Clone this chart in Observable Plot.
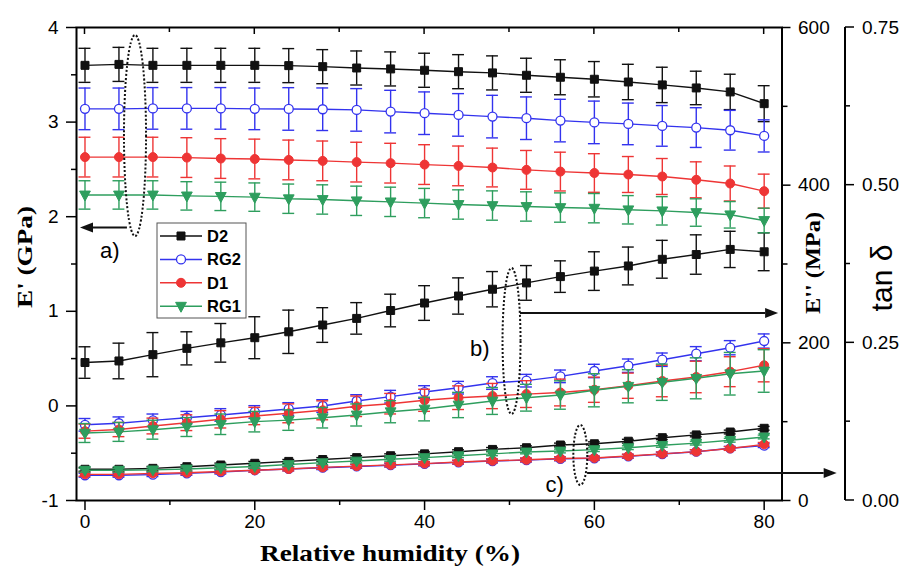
<!DOCTYPE html>
<html><head><meta charset="utf-8">
<script src="https://cdn.jsdelivr.net/npm/d3@7"></script>
<script src="https://cdn.jsdelivr.net/npm/@observablehq/plot@0.6"></script>
<style>
html,body{margin:0;padding:0;background:#fff;}
#chart{width:906px;height:567px;overflow:hidden}
svg{display:block}
</style></head><body><div id="chart"></div>
<script>
// ---------- data ----------
const RH = [0,4,8,12,16,20,24,28,32,36,40,44,48,52,56,60,64,68,72,76,80];
const seriesNames = ["D2","RG2","D1","RG1"];
const seriesColors = ["#111111","#3333ee","#ee3535","#2e9e5e"];

// E' (GPa)
const E1_D2  = [3.60,3.61,3.60,3.60,3.60,3.60,3.597,3.586,3.572,3.562,3.548,3.533,3.52,3.495,3.474,3.453,3.424,3.393,3.361,3.319,3.195];
const E1_RG2 = [3.14,3.14,3.145,3.145,3.145,3.14,3.139,3.136,3.129,3.111,3.094,3.076,3.058,3.041,3.016,2.997,2.981,2.96,2.942,2.914,2.854];
const E1_D1  = [2.63,2.63,2.63,2.625,2.615,2.61,2.60,2.59,2.577,2.566,2.551,2.537,2.52,2.495,2.477,2.462,2.446,2.425,2.39,2.351,2.27];
const E1_RG1 = [2.23,2.23,2.23,2.22,2.215,2.207,2.19,2.182,2.168,2.157,2.144,2.129,2.118,2.108,2.097,2.09,2.073,2.062,2.044,2.02,1.96];
const E1err_D2  = [0.18,0.18,0.18,0.18,0.18,0.18,0.18,0.18,0.18,0.18,0.18,0.18,0.18,0.18,0.185,0.187,0.187,0.187,0.177,0.187,0.19];
const E1err_RG2 = [0.22,0.22,0.22,0.22,0.22,0.22,0.225,0.225,0.225,0.225,0.225,0.225,0.225,0.225,0.225,0.225,0.22,0.215,0.21,0.21,0.17];
const E1err_D1  = [0.21,0.21,0.21,0.21,0.21,0.21,0.21,0.21,0.21,0.21,0.21,0.21,0.205,0.205,0.205,0.204,0.19,0.19,0.19,0.185,0.18];
const E1err_RG1 = [0.15,0.15,0.15,0.15,0.15,0.15,0.155,0.155,0.155,0.155,0.155,0.155,0.155,0.155,0.155,0.155,0.15,0.15,0.145,0.14,0.13];

// E'' (MPa)
const E2_D2  = [175,177,185,193,200,206.5,214,222.6,231,241,250.5,259.4,268,276,284,291,297.5,306,312,318.5,315.5];
const E2_RG2 = [96,98,101.7,105,108.5,112.3,116.1,119.9,126.2,131.7,137.6,143.1,149,152,157.5,164.3,171,178.6,186.2,193.8,202.3];
const E2_D1  = [88,90,94.5,98.7,103,107.2,110.6,114.4,119.5,122.8,127.1,130.4,132.5,135,137,140.5,145.6,151.6,156.7,163.4,171.5];
const E2_RG1 = [85.6,87,89.8,93.2,96.7,100,102,105,108.5,112.6,116,121.1,126.2,130.4,133.8,139.8,144.9,150,155,160.8,164.3];
const E2err_D2  = [20,22.6,28,21,24.5,26.6,27.5,22,20,20.7,22,23,22.4,22,20,24.5,24,24,25,23,24];
const E2err_RG2 = [8,8,8,8,8,8,8,8,8,8,8,8,8,8,8,8.5,8.5,8.5,9,9,9];
const E2err_D1  = [9,9,10,10,11,11,12,12,13,13,14,15,16,17,17,16,16,20,20,19,21];
const E2err_RG1 = [12,12,12,12,13,13,13,13,14,14,15,16,17,17,18,21,21,23,26,27,27];

// tan delta
const TD_D2  = [0.0495,0.0495,0.051,0.0536,0.0563,0.059,0.062,0.065,0.068,0.071,0.074,0.0774,0.081,0.0837,0.088,0.090,0.094,0.0996,0.104,0.1086,0.1145];
const TD_RG2 = [0.040,0.040,0.041,0.043,0.045,0.048,0.050,0.052,0.054,0.056,0.058,0.0606,0.0626,0.064,0.066,0.067,0.070,0.0737,0.0774,0.0828,0.087];
const TD_D1  = [0.0415,0.0415,0.043,0.044,0.046,0.048,0.050,0.0525,0.0545,0.0565,0.0585,0.061,0.063,0.0645,0.0665,0.0675,0.0705,0.074,0.0775,0.0825,0.089];
const TD_RG1 = [0.048,0.048,0.0486,0.050,0.052,0.054,0.057,0.060,0.0626,0.0653,0.068,0.071,0.074,0.077,0.0785,0.0806,0.0837,0.0875,0.091,0.0955,0.1007];
const TDerr = [0.003,0.003,0.003,0.003,0.003,0.003,0.003,0.003,0.003,0.003,0.003,0.003,0.003,0.003,0.003,0.003,0.003,0.003,0.003,0.003,0.003];

// axis ticks
const xMajor = [0,20,40,60,80], xMinor = [10,30,50,70];
const yLeftMajor = [-1,0,1,2,3,4], yLeftMinor = [-0.5,0.5,1.5,2.5,3.5];
const mpaMajor = [0,200,400,600], mpaMinor = [100,300,500];
const tanMajor = [0.00,0.25,0.50,0.75], tanMinor = [0.125,0.375,0.625];

// ---------- conversions (all bands share the left axis frame) ----------
const fromMPa = m => -1 + m / 120;     // 0..600 MPa -> -1..4
const fromTan = t => -1 + t / 0.15;    // 0..0.75   -> -1..4
const ident = v => v;
const xDomain = [-1, 82.1];

const bands = {
  D2:  [[E1_D2,E1err_D2,ident],[E2_D2,E2err_D2,fromMPa],[TD_D2,TDerr,fromTan]],
  RG2: [[E1_RG2,E1err_RG2,ident],[E2_RG2,E2err_RG2,fromMPa],[TD_RG2,TDerr,fromTan]],
  D1:  [[E1_D1,E1err_D1,ident],[E2_D1,E2err_D1,fromMPa],[TD_D1,TDerr,fromTan]],
  RG1: [[E1_RG1,E1err_RG1,ident],[E2_RG1,E2err_RG1,fromMPa],[TD_RG1,TDerr,fromTan]]
};
const rows = [];
seriesNames.forEach(s => bands[s].forEach(([vals, errs, conv], b) => RH.forEach((x, i) => {
  rows.push({series: s, band: b, x, y: conv(vals[i]), lo: conv(vals[i] - errs[i]), hi: conv(vals[i] + errs[i])});
})));

const triDown = {draw(ctx, size) {
  const s = Math.sqrt(size) * 1.35;
  ctx.moveTo(-s/2, -s*0.36); ctx.lineTo(s/2, -s*0.36); ctx.lineTo(0, s*0.56); ctx.closePath();
}};
const symbols = {D2: "square", RG2: "circle", D1: "circle", RG1: triDown};
const fills = {D2: "#111111", RG2: "#ffffff", D1: "#ee3535", RG1: "#2e9e5e"};

const capHalf = 0.7;
const marks = [];
seriesNames.forEach((s, k) => {
  const col = seriesColors[k];
  const d = rows.filter(r => r.series === s);
  marks.push(Plot.ruleX(d, {x: "x", y1: "lo", y2: "hi", stroke: col, strokeWidth: 1.4}));
  marks.push(Plot.ruleY(d, {y: "lo", x1: r => r.x - capHalf, x2: r => r.x + capHalf, stroke: col, strokeWidth: 1.4}));
  marks.push(Plot.ruleY(d, {y: "hi", x1: r => r.x - capHalf, x2: r => r.x + capHalf, stroke: col, strokeWidth: 1.4}));
  marks.push(Plot.line(d, {x: "x", y: "y", z: "band", stroke: col, strokeWidth: 1.4}));
  marks.push(Plot.dot(d, {x: "x", y: "y", symbol: () => symbols[s], r: 4.5, fill: fills[s], stroke: col, strokeWidth: s === "RG2" ? 1.3 : 1}));
});

const font = "'Liberation Sans', Arial, sans-serif";
const serif = "'Liberation Serif', 'Times New Roman', serif";

marks.push(
  Plot.axisY(yLeftMajor, {anchor: "left", tickSize: 10, tickPadding: 8, fontSize: 19, tickFormat: d => String(d), label: null, strokeWidth: 1.5}),
  Plot.axisY(yLeftMinor, {anchor: "left", tickSize: 5, tickFormat: () => "", label: null, strokeWidth: 1.5}),
  Plot.axisX(xMajor, {anchor: "bottom", tickSize: 10, tickPadding: 4, fontSize: 19, tickFormat: d => String(d), label: null, strokeWidth: 1.5}),
  Plot.axisX(xMinor, {anchor: "bottom", tickSize: 5, tickFormat: () => "", label: null, strokeWidth: 1.5}),
  Plot.axisY(mpaMajor.map(fromMPa), {anchor: "right", tickSize: 8, tickPadding: 8, fontSize: 19, tickFormat: d => String(Math.round((d + 1) * 120)), label: null, strokeWidth: 1.5}),
  Plot.axisY(mpaMinor.map(fromMPa), {anchor: "right", tickSize: 5, tickFormat: () => "", label: null, strokeWidth: 1.5}),
  Plot.frame({stroke: "#000", strokeWidth: 2})
);

const plot = Plot.plot({
  width: 906, height: 567,
  marginLeft: 76, marginRight: 124.5, marginTop: 27, marginBottom: 67,
  x: {domain: xDomain},
  y: {domain: [-1, 4]},
  style: {fontFamily: font, color: "#000", background: "#fff", overflow: "visible"},
  marks
});
document.getElementById("chart").appendChild(plot);

// ---------- extra decorations through the plot's scales ----------
const svg = d3.select(plot);
const X = v => plot.scale("x").apply(v), Y = v => plot.scale("y").apply(v);
const g = svg.append("g").attr("text-anchor", "start");

// inward ticks on the top frame
xMajor.concat(xMinor).forEach(v => {
  const len = xMajor.includes(v) ? 7 : 5;
  g.append("line").attr("x1", X(v)).attr("x2", X(v)).attr("y1", Y(4)).attr("y2", Y(4) + len).attr("stroke", "#000").attr("stroke-width", 1.5);
});

// tan delta axis
const tanX = X(xDomain[1]) + 63.5;
g.append("line").attr("x1", tanX).attr("x2", tanX).attr("y1", Y(-1)).attr("y2", Y(4)).attr("stroke", "#000").attr("stroke-width", 2);
tanMajor.forEach(t => {
  const y = Y(fromTan(t));
  g.append("line").attr("x1", tanX).attr("x2", tanX + 9).attr("y1", y).attr("y2", y).attr("stroke", "#000").attr("stroke-width", 1.5);
  g.append("text").attr("x", tanX + 17).attr("y", y).attr("dy", "0.35em").attr("text-anchor", "start").attr("font-family", font).attr("font-size", 19).text(t.toFixed(2));
});
tanMinor.forEach(t => {
  const y = Y(fromTan(t));
  g.append("line").attr("x1", tanX).attr("x2", tanX + 5).attr("y1", y).attr("y2", y).attr("stroke", "#000").attr("stroke-width", 1.5);
});

// axis titles
g.append("text").attr("transform", "translate(32,257) rotate(-90)").attr("text-anchor", "middle")
  .attr("font-family", serif).attr("font-weight", "bold").attr("font-size", 22)
  .attr("textLength", 102).attr("lengthAdjust", "spacingAndGlyphs").text("E' (GPa)");
g.append("text").attr("transform", "translate(820,263) rotate(-90)").attr("text-anchor", "middle")
  .attr("font-family", serif).attr("font-weight", "bold").attr("font-size", 22)
  .attr("textLength", 102).attr("lengthAdjust", "spacingAndGlyphs").text("E'' (MPa)");
g.append("text").attr("transform", "translate(892,278) rotate(-90)").attr("text-anchor", "middle")
  .attr("font-family", font).attr("font-size", 30).text("tan δ");
g.append("text").attr("x", 390).attr("y", 561).attr("text-anchor", "middle")
  .attr("font-family", serif).attr("font-weight", "bold").attr("font-size", 23)
  .attr("textLength", 260).attr("lengthAdjust", "spacingAndGlyphs").text("Relative humidity (%)");

// annotations: dotted ellipses, arrows, labels
const notes = [
  {label: "a)", cx: 5.95, rx: 1.3, top: 3.915, bottom: 1.79, ay: 1.88, ax1: 5.0, ax2: -0.53, tx: 1.83, ty: 1.558},
  {label: "b)", cx: 50.3, rx: 1.06, top: 1.452, bottom: -0.091, ay: 0.977, ax1: 51.3, ax2: 81.7, tx: 45.4, ty: 0.522},
  {label: "c)", cx: 58.4, rx: 0.82, top: -0.207, bottom: -0.841, ay: -0.715, ax1: 59.2, ax2: 88.6, tx: 54.3, ty: -0.915}
];
notes.forEach(n => {
  const cxp = X(n.cx), rxp = X(n.cx + n.rx) - cxp;
  const t = Y(n.top), b = Y(n.bottom);
  g.append("ellipse").attr("cx", cxp).attr("cy", (t + b) / 2).attr("rx", rxp).attr("ry", (b - t) / 2)
    .attr("fill", "none").attr("stroke", "#111").attr("stroke-width", 2).attr("stroke-dasharray", "2,2");
  const y = Y(n.ay), x1 = X(n.ax1), x2 = X(n.ax2);
  const dir = Math.sign(x2 - x1), hl = 13, hw = 5;
  g.append("line").attr("x1", x1).attr("x2", x2 - dir * hl).attr("y1", y).attr("y2", y).attr("stroke", "#111").attr("stroke-width", 2);
  g.append("path").attr("d", `M${x2},${y}L${x2 - dir * hl},${y - hw}L${x2 - dir * hl},${y + hw}Z`).attr("fill", "#111");
  g.append("text").attr("x", X(n.tx)).attr("y", Y(n.ty)).attr("text-anchor", "start").attr("font-family", font).attr("font-size", 22).text(n.label);
});

// legend
const lg = g.append("g");
lg.append("rect").attr("x", 157).attr("y", 223).attr("width", 89).attr("height", 95).attr("fill", "#fff").attr("stroke", "#555").attr("stroke-width", 1);
const legendSym = {D2: d3.symbolSquare, RG2: d3.symbolCircle, D1: d3.symbolCircle, RG1: triDown};
seriesNames.forEach((s, k) => {
  const y = 236 + k * 23.4, col = seriesColors[k];
  lg.append("line").attr("x1", 160).attr("x2", 202).attr("y1", y).attr("y2", y).attr("stroke", col).attr("stroke-width", 1.5);
  lg.append("path").attr("d", d3.symbol(legendSym[s], Math.PI * 4.5 * 4.5)()).attr("transform", `translate(181,${y})`)
    .attr("fill", fills[s]).attr("stroke", col).attr("stroke-width", s === "RG2" ? 1.3 : 1);
  lg.append("text").attr("x", 207).attr("y", y).attr("dy", "0.36em").attr("text-anchor", "start").attr("font-family", font).attr("font-weight", "bold").attr("font-size", 16.5).text(s);
});
</script></body></html>
